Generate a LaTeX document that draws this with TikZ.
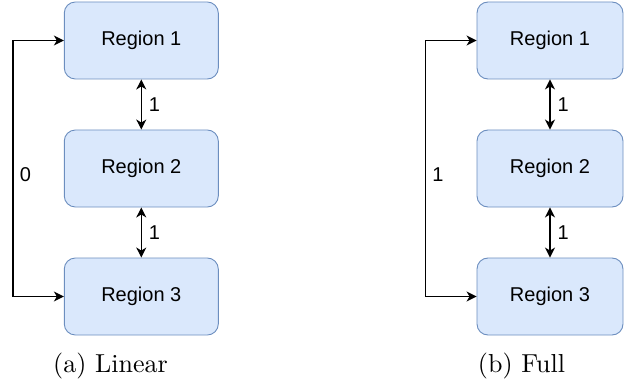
\documentclass[tikz,border=0pt]{standalone}
\usepackage{fontspec}
\newfontfamily\arialfont{Liberation Sans}
\usetikzlibrary{arrows.meta}
\definecolor{boxfill}{HTML}{DAE8FC}
\definecolor{boxline}{HTML}{6C8EBF}
\newcommand{\captext}[1]{\scalebox{2.6}{\fontsize{10}{12}\selectfont #1}}
\begin{document}
\begin{tikzpicture}[x=1pt,y=-1pt,
  region/.style={draw=boxline, fill=boxfill, line width=0.9pt, rounded corners=11pt,
    minimum height=77pt, inner sep=0pt, font=\arialfont\fontsize{20}{24}\selectfont},
  link/.style={line width=1.3pt, {Stealth[length=10pt,width=10pt,inset=3pt]}-{Stealth[length=10pt,width=10pt,inset=3pt]}},
  lbl/.style={font=\arialfont\fontsize{20}{24}\selectfont, inner sep=0pt},
  caption/.style={inner sep=0pt}]
\useasboundingbox (0,0) rectangle (624,385);

% (a) Linear
\node[region, minimum width=154pt] (a1) at (141.3,40.5) {Region 1};
\node[region, minimum width=154pt] (a2) at (141.3,168.5) {Region 2};
\node[region, minimum width=154pt] (a3) at (141.3,296.5) {Region 3};
\coordinate (at) at (13,40.5);
\coordinate (ab) at (13,296.5);
\draw[link] (a1) -- node[lbl, right=7pt] {1} (a2);
\draw[link] (a2) -- node[lbl, right=7pt] {1} (a3);
\draw[link] (a1.west) -- (at) -- (ab) -- (a3.west);
\node[lbl] (a0) at (25.5,175) {0};
\node[caption] (acap) at (110.5,366) {\captext{(a) Linear}};

% (b) Full
\node[region, minimum width=146pt] (b1) at (550,40.5) {Region 1};
\node[region, minimum width=146pt] (b2) at (550,168.5) {Region 2};
\node[region, minimum width=146pt] (b3) at (550,296.5) {Region 3};
\coordinate (bt) at (425.7,40.5);
\coordinate (bb) at (425.7,296.5);
\draw[link] (b1) -- node[lbl, right=7pt] {1} (b2);
\draw[link] (b2) -- node[lbl, right=7pt] {1} (b3);
\draw[link] (b1.west) -- (bt) -- (bb) -- (b3.west);
\node[lbl] (b0) at (438,175) {1};
\node[caption] (bcap) at (521.5,366) {\captext{(b) Full}};
\end{tikzpicture}
\end{document}
